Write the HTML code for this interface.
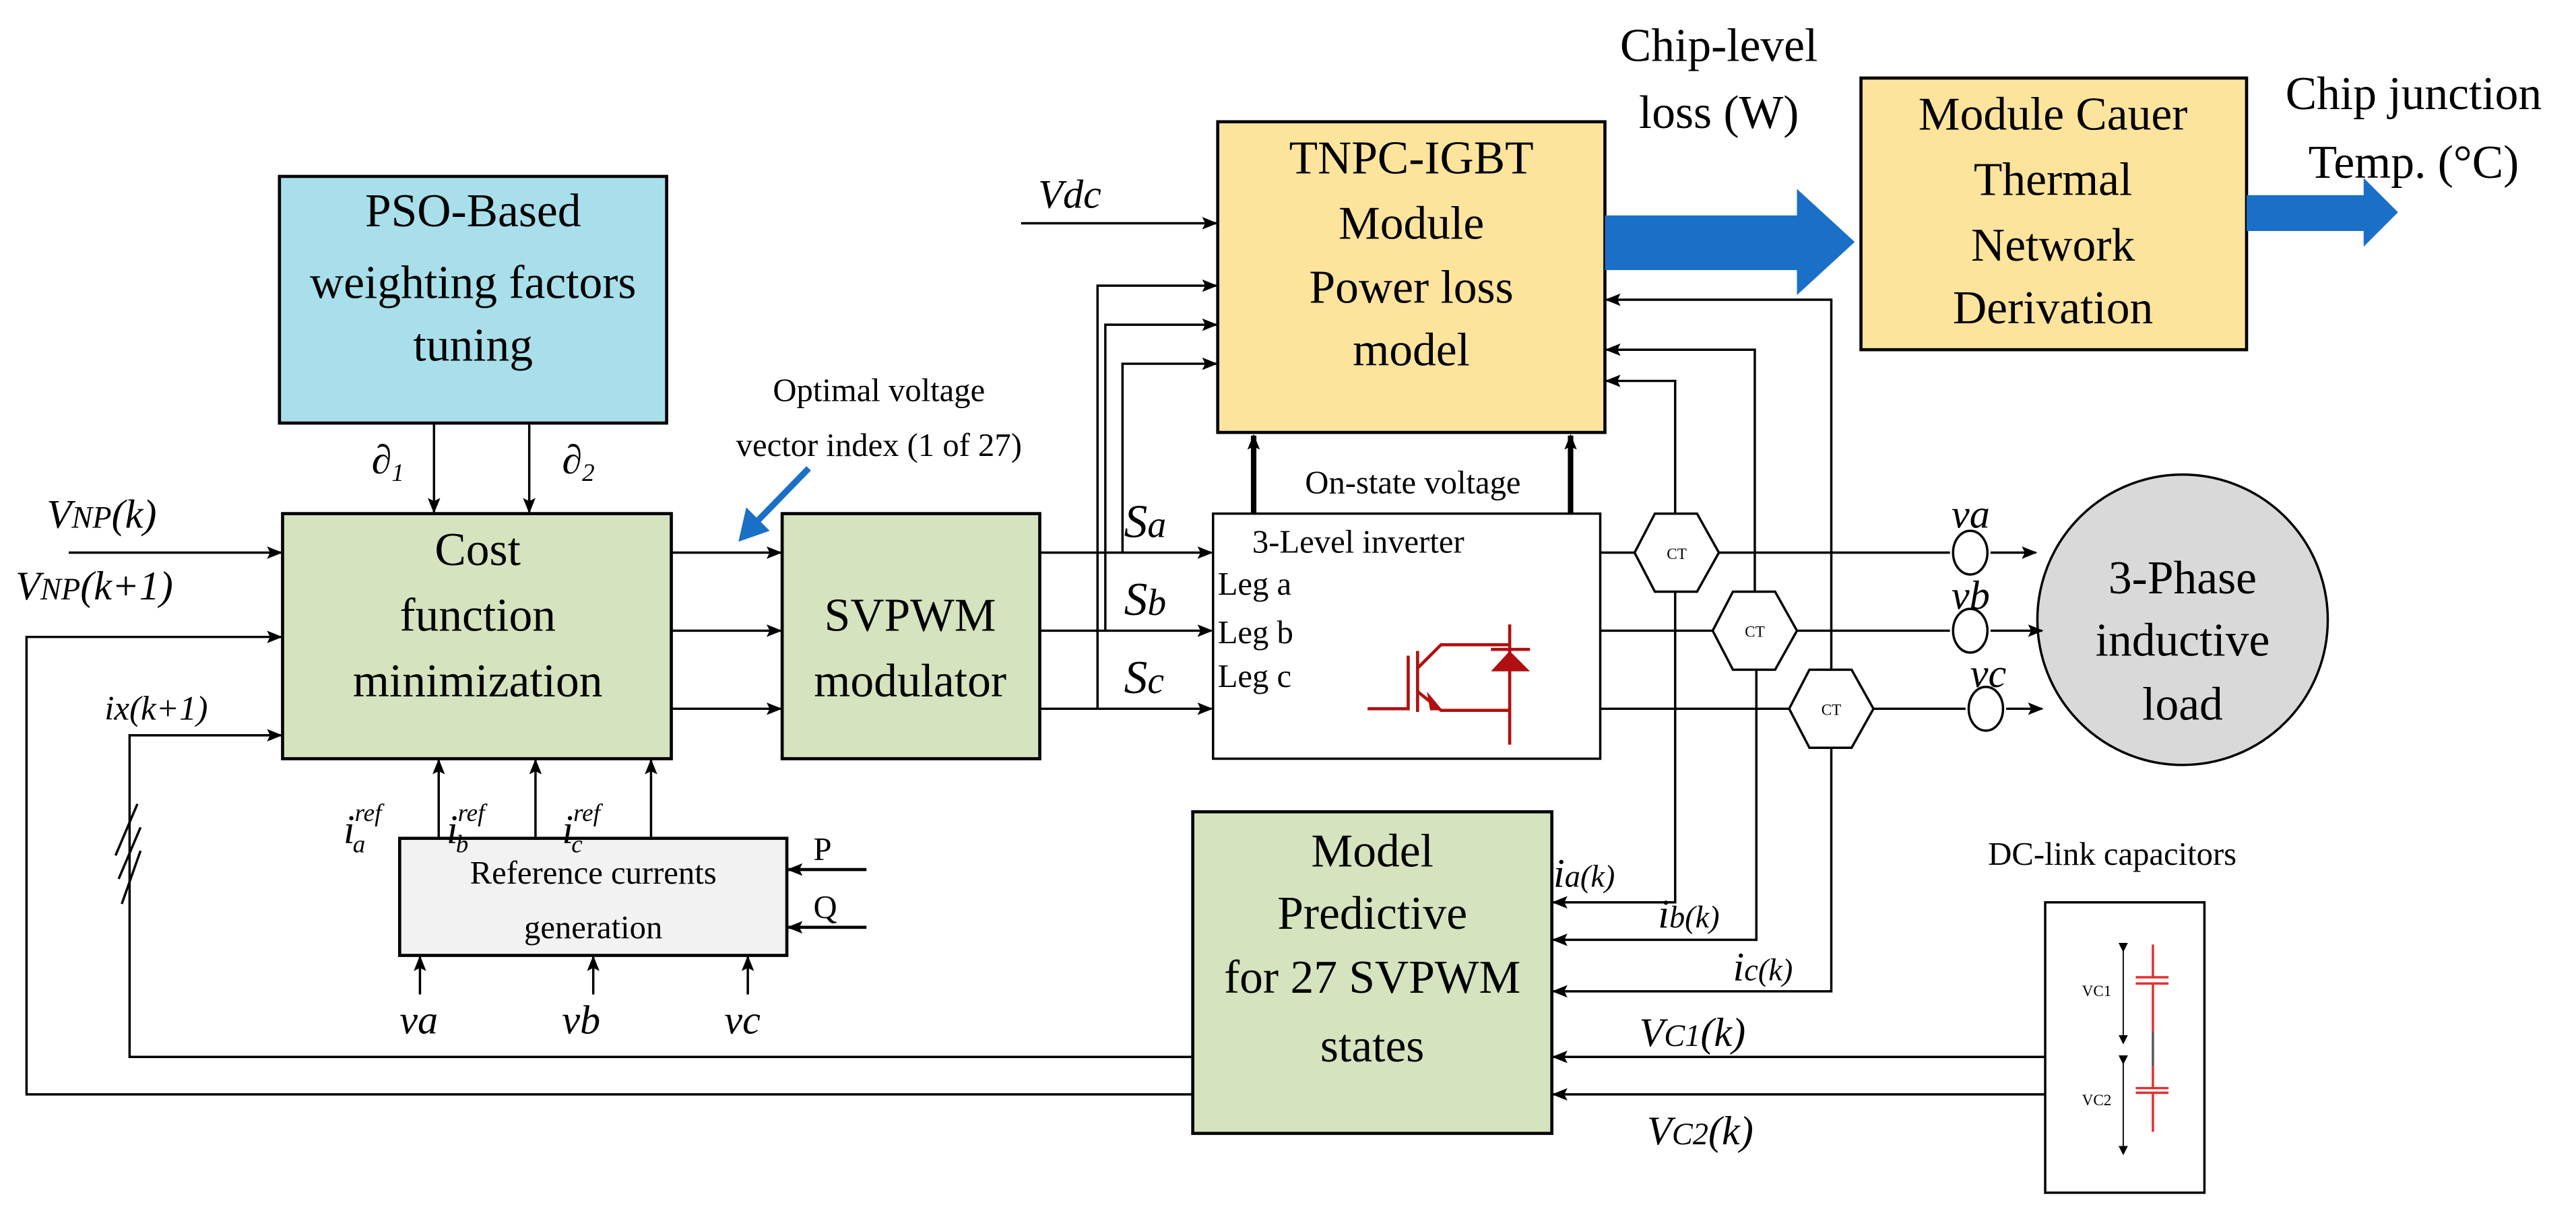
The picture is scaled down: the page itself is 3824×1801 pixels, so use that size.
<!DOCTYPE html>
<html><head><meta charset="utf-8"><style>
html,body{margin:0;padding:0;background:#fff;}
svg{display:block;font-family:"Liberation Serif","DejaVu Serif",serif;}
svg text{font-family:"Liberation Serif","DejaVu Serif",serif;fill:#000;}
.b{font-size:30px;}
.i{font-style:italic;}
</style></head><body>
<svg width="3824" height="1801" viewBox="0 0 1650 777" preserveAspectRatio="none" xmlns="http://www.w3.org/2000/svg" font-family="Liberation Serif, DejaVu Serif, serif">
<defs>
<marker id="a" markerWidth="10" markerHeight="8" refX="9" refY="4" orient="auto" markerUnits="userSpaceOnUse"><path d="M0,0 L10,4 L0,8 L2,4 Z" fill="#000"/></marker>
<marker id="s" markerWidth="6" markerHeight="6" refX="3" refY="3" orient="auto" markerUnits="userSpaceOnUse"><path d="M0,0 L6,3 L0,6 Z" fill="#000"/></marker>
</defs>
<g stroke="#000" stroke-width="1.5" fill="none">
<rect x="179" y="113" width="248" height="158" fill="#a8dfea" stroke-width="2"/>
<rect x="181" y="329" width="249" height="157" fill="#d5e3be" stroke-width="2"/>
<rect x="501" y="329" width="165" height="157" fill="#d5e3be" stroke-width="2"/>
<rect x="780" y="78" width="248" height="199" fill="#fde49c" stroke-width="2"/>
<rect x="1192" y="50" width="247" height="174" fill="#fde49c" stroke-width="2"/>
<rect x="777" y="329" width="248" height="157" fill="#fff"/>
<rect x="256" y="537" width="248" height="75" fill="#f2f2f2" stroke-width="2"/>
<rect x="764" y="520" width="230" height="206" fill="#d5e3be" stroke-width="2"/>
<rect x="1310" y="578" width="102" height="186" fill="#fff"/>
<circle cx="1398" cy="397" r="93" fill="#d9d9d9"/>
<line x1="278" y1="271" x2="278" y2="328" marker-end="url(#a)"/>
<line x1="339" y1="271" x2="339" y2="328" marker-end="url(#a)"/>
<line x1="44" y1="354" x2="180" y2="354" marker-end="url(#a)"/>
<polyline points="764,701 17,701 17,408 180,408" marker-end="url(#a)"/>
<polyline points="764,677 83,677 83,471 180,471" marker-end="url(#a)"/>
<line x1="430" y1="354" x2="500" y2="354" marker-end="url(#a)"/>
<line x1="430" y1="404" x2="500" y2="404" marker-end="url(#a)"/>
<line x1="430" y1="454" x2="500" y2="454" marker-end="url(#a)"/>
<line x1="666" y1="354" x2="776" y2="354" marker-end="url(#a)"/>
<line x1="666" y1="404" x2="776" y2="404" marker-end="url(#a)"/>
<line x1="666" y1="454" x2="776" y2="454" marker-end="url(#a)"/>
<polyline points="703,454 703,183 779,183" marker-end="url(#a)"/>
<polyline points="708,404 708,208 779,208" marker-end="url(#a)"/>
<polyline points="719,354 719,233 779,233" marker-end="url(#a)"/>
<line x1="654" y1="143" x2="779" y2="143" marker-end="url(#a)"/>
<line x1="803" y1="329" x2="803" y2="279" stroke-width="3.5" marker-end="url(#a)"/>
<line x1="1006" y1="329" x2="1006" y2="279" stroke-width="3.5" marker-end="url(#a)"/>
<line x1="281" y1="537" x2="281" y2="487" marker-end="url(#a)"/>
<line x1="343" y1="537" x2="343" y2="487" marker-end="url(#a)"/>
<line x1="417" y1="537" x2="417" y2="487" marker-end="url(#a)"/>
<line x1="555" y1="557" x2="505" y2="557" stroke-width="2" marker-end="url(#a)"/>
<line x1="555" y1="594" x2="505" y2="594" stroke-width="2" marker-end="url(#a)"/>
<line x1="269" y1="637" x2="269" y2="613" marker-end="url(#a)"/>
<line x1="380" y1="637" x2="380" y2="613" marker-end="url(#a)"/>
<line x1="479" y1="637" x2="479" y2="613" marker-end="url(#a)"/>
<line x1="88" y1="515" x2="74" y2="548"/><line x1="90" y1="530" x2="76" y2="563"/><line x1="90" y1="545" x2="78" y2="579"/>
<line x1="1025" y1="354" x2="1047" y2="354"/><line x1="1101" y1="354" x2="1249" y2="354"/><line x1="1275" y1="354" x2="1304" y2="354" marker-end="url(#a)"/>
<line x1="1025" y1="404" x2="1097" y2="404"/><line x1="1151" y1="404" x2="1249" y2="404"/><line x1="1275" y1="404" x2="1308" y2="404" marker-end="url(#a)"/>
<line x1="1025" y1="454" x2="1146" y2="454"/><line x1="1200" y1="454" x2="1259" y2="454"/><line x1="1285" y1="454" x2="1308" y2="454" marker-end="url(#a)"/>
<polyline points="1073,329 1073,244 1029,244" marker-end="url(#a)"/>
<polyline points="1124,379 1124,224 1029,224" marker-end="url(#a)"/>
<polyline points="1173,429 1173,192 1029,192" marker-end="url(#a)"/>
<polyline points="1073,379 1073,578 995,578" marker-end="url(#a)"/>
<polyline points="1125,429 1125,602 995,602" marker-end="url(#a)"/>
<polyline points="1173,479 1173,635 995,635" marker-end="url(#a)"/>
<line x1="1310" y1="677" x2="995" y2="677" marker-end="url(#a)"/>
<line x1="1310" y1="701" x2="995" y2="701" marker-end="url(#a)"/>
<polygon points="1047,354 1060,329 1087,329 1101,354 1087,379 1060,379" fill="#fff"/>
<polygon points="1097,404 1110,379 1137,379 1151,404 1137,429 1110,429" fill="#fff"/>
<polygon points="1146,454 1159,429 1186,429 1200,454 1186,479 1159,479" fill="#fff"/>
<ellipse cx="1262" cy="354" rx="11" ry="14" fill="#fff"/>
<ellipse cx="1262" cy="404" rx="11" ry="14" fill="#fff"/>
<ellipse cx="1272" cy="454" rx="11" ry="14" fill="#fff"/>
<line x1="1360" y1="607" x2="1360" y2="666" stroke-width="0.8" marker-start="url(#s)" marker-end="url(#s)"/>
<line x1="1360" y1="679" x2="1360" y2="737" stroke-width="0.8" marker-start="url(#s)" marker-end="url(#s)"/>
<g stroke="#e03030"><line x1="1379" y1="605" x2="1379" y2="626"/><line x1="1379" y1="630" x2="1379" y2="661"/>
<line x1="1379" y1="683" x2="1379" y2="697"/><line x1="1379" y1="700" x2="1379" y2="725"/>
<line x1="1368" y1="626" x2="1389" y2="626"/><line x1="1368" y1="630" x2="1389" y2="630"/>
<line x1="1368" y1="697" x2="1389" y2="697"/><line x1="1368" y1="700" x2="1389" y2="700"/></g>
<line x1="1379" y1="661" x2="1379" y2="683" stroke="#555"/>
<g stroke="#b01010" stroke-width="2">
<polyline points="876,454 902,454 902,420"/><line x1="908" y1="417" x2="908" y2="456"/>
<polyline points="908,428 923,413 967,413"/><polyline points="908,443 923,455 967,455"/>
<line x1="967" y1="400" x2="967" y2="477"/><line x1="955" y1="416" x2="980" y2="416"/>
</g>
<polygon points="955,430 980,430 967,417" fill="#b01010" stroke="none"/>
<polygon points="914,443 924,455 916,455" fill="#b01010" stroke="none"/>
</g>
<polygon points="1028,138 1151,138 1151,121 1188,155 1151,189 1151,173 1028,173" fill="#1a6fc7"/>
<polygon points="1439,125 1514,125 1514,114 1536,136 1514,158 1514,148 1439,148" fill="#1a6fc7"/>
<line x1="518" y1="300" x2="482" y2="337" stroke="#1a6fc7" stroke-width="4"/>
<polygon points="473,347 478,325 493,340" fill="#1a6fc7"/>
<g class="b" text-anchor="middle">
<text x="303" y="145">PSO-Based</text><text x="303" y="191">weighting factors</text><text x="303" y="231">tuning</text>
<text x="306" y="362">Cost</text><text x="306" y="404">function</text><text x="306" y="446">minimization</text>
<text x="583" y="404">SVPWM</text><text x="583" y="446">modulator</text>
<text x="904" y="111">TNPC-IGBT</text><text x="904" y="153">Module</text><text x="904" y="194">Power loss</text><text x="904" y="234">model</text>
<text x="1315" y="83">Module Cauer</text><text x="1315" y="125">Thermal</text><text x="1315" y="167">Network</text><text x="1315" y="207">Derivation</text>
<text x="1101" y="39">Chip-level</text><text x="1101" y="82">loss (W)</text>
<text x="1546" y="70">Chip junction</text><text x="1546" y="114">Temp. (°C)</text>
<text x="879" y="555">Model</text><text x="879" y="595">Predictive</text><text x="879" y="636">for 27 SVPWM</text><text x="879" y="680">states</text>
<text x="1398" y="380">3-Phase</text><text x="1398" y="420">inductive</text><text x="1398" y="461">load</text>
</g>
<g text-anchor="middle" font-size="21">
<text x="563" y="257">Optimal voltage</text><text x="563" y="292">vector index (1 of 27)</text>
<text x="380" y="566">Reference currents</text><text x="380" y="601">generation</text>
<text x="905" y="316">On-state voltage</text>
<text x="870" y="354">3-Level inverter</text>
<text x="1353" y="554">DC-link capacitors</text>
</g>
<g font-size="21"><text x="780" y="381">Leg a</text><text x="780" y="412">Leg b</text><text x="780" y="440">Leg c</text>
<text x="521" y="551">P</text><text x="521" y="588">Q</text></g>
<g font-size="10" text-anchor="middle"><text x="1074" y="358">CT</text><text x="1124" y="408">CT</text><text x="1173" y="458">CT</text>
<text x="1343" y="638" fill="#336">VC1</text><text x="1343" y="708" fill="#336">VC2</text></g>
<g class="i" font-size="26">
<text x="665" y="133">Vdc</text>
<text x="30" y="338">V<tspan font-size="20">NP</tspan>(k)</text>
<text x="10" y="384">V<tspan font-size="20">NP</tspan>(k+1)</text>
<text x="67" y="461" font-size="22">ix(k+1)</text>
<text x="720" y="344" font-size="30">S<tspan font-size="24">a</tspan></text>
<text x="720" y="394" font-size="30">S<tspan font-size="24">b</tspan></text>
<text x="720" y="444" font-size="30">S<tspan font-size="24">c</tspan></text>
<text x="238" y="303">∂<tspan font-size="16" dy="5">1</tspan></text>
<text x="360" y="303">∂<tspan font-size="16" dy="5">2</tspan></text>
<text x="220" y="540">i<tspan font-size="16" dy="-14">ref</tspan></text><text x="226" y="546" font-size="16">a</text>
<text x="286" y="540">i<tspan font-size="16" dy="-14">ref</tspan></text><text x="292" y="546" font-size="16">b</text>
<text x="360" y="540">i<tspan font-size="16" dy="-14">ref</tspan></text><text x="366" y="546" font-size="16">c</text>
<text x="256" y="662">va</text><text x="360" y="662">vb</text><text x="464" y="662">vc</text>
<text x="1250" y="338">va</text><text x="1250" y="390">vb</text><text x="1262" y="440">vc</text>
<text x="995" y="568">i<tspan font-size="20">a(k)</tspan></text>
<text x="1062" y="594">i<tspan font-size="20">b(k)</tspan></text>
<text x="1110" y="628">i<tspan font-size="20">c(k)</tspan></text>
<text x="1050" y="670">V<tspan font-size="20">C1</tspan>(k)</text>
<text x="1055" y="733">V<tspan font-size="20">C2</tspan>(k)</text>
</g>
</svg>
</body></html>
